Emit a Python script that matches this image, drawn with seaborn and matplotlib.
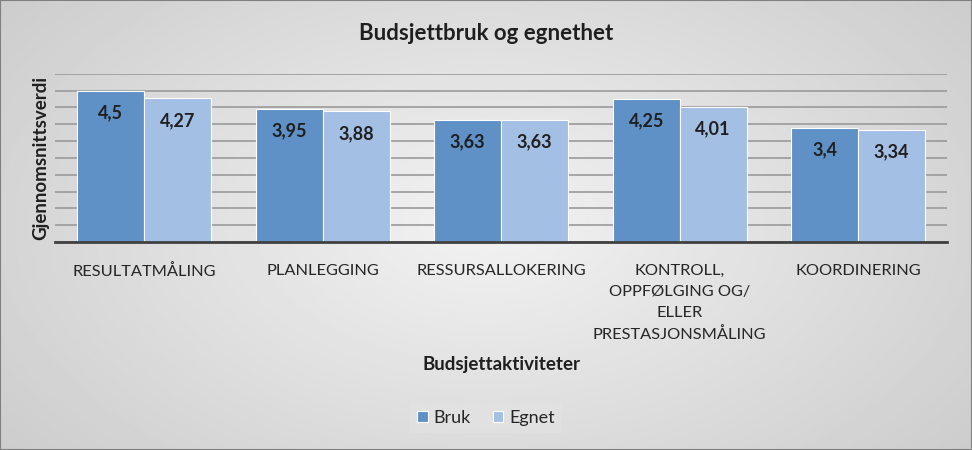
import numpy as np
import pandas as pd

import matplotlib
matplotlib.use("Agg")

import matplotlib.pyplot as plt
import seaborn as sns

# -------------------------------------------------------
# DONNÉES
# -------------------------------------------------------

categories = [
    "RESULTATMÅLING",
    "PLANLEGGING",
    "RESSURSALLOKERING",
    "KONTROLL,\nOPPFØLGING OG/\nELLER\nPRESTASJONSMÅLING",
    "KOORDINERING",
]
bruk = [4.5, 3.95, 3.63, 4.25, 3.4]
egnet = [4.27, 3.88, 3.63, 4.01, 3.34]
series = ["Bruk", "Egnet"]

df = pd.DataFrame({
    "aktivitet": categories * 2,
    "verdi": bruk + egnet,
    "serie": [series[0]] * len(categories) + [series[1]] * len(categories),
})

# -------------------------------------------------------
# CONFIGURATION
# -------------------------------------------------------

sns.set_theme(style="white")
plt.rcParams["font.family"] = ["Lato", "DejaVu Sans"]

fig = plt.figure(figsize=(9.72, 4.5), dpi=100)

# fond dégradé gris
bg = fig.add_axes([0, 0, 1, 1], zorder=-10)
yy, xx = np.mgrid[-1:1:200j, -1:1:400j]
r = np.sqrt((xx * 0.9) ** 2 + (yy * 0.7) ** 2)
bg.imshow(0.95 - 0.13 * r, cmap="gray", vmin=0, vmax=1, aspect="auto",
          extent=[0, 1, 0, 1])
bg.set_axis_off()
fig.patches.append(plt.Rectangle((0, 0), 1, 1, transform=fig.transFigure,
                                 fill=False, edgecolor="#7F7F7F", lw=1.5))

ax = fig.add_axes([0.0566, 0.462, 0.918, 0.374])
ax.set_facecolor("none")

sns.barplot(
    data=df, x="aktivitet", y="verdi", hue="serie",
    palette=["#5F90C6", "#A3BFE4"], width=0.75,
    edgecolor="white", linewidth=0.8, saturation=1, ax=ax, zorder=3,
)

for cont in ax.containers:
    ax.bar_label(cont, fmt=lambda v: f"{v:g}".replace(".", ","),
                 padding=-22, fontsize=13, fontweight="bold",
                 color="#1F1F1F")

ax.set_ylim(0, 5)
ax.set_xlim(-0.5, 4.5)
ax.set_yticks(np.arange(0, 5.01, 0.5))
ax.set_yticklabels([])
ax.tick_params(axis="y", length=0)
ax.set_xticks(range(len(categories)))
ax.set_xticklabels(categories, linespacing=1.6)
ax.tick_params(axis="x", length=0, labelsize=11.8, labelcolor="#262626", pad=16)
ax.grid(axis="y", color="#9A9A9A", lw=1.2, zorder=0)
ax.grid(axis="x", visible=False)

for s in ["top", "left", "right"]:
    ax.spines[s].set_visible(False)
ax.spines["bottom"].set_color("#404040")
ax.spines["bottom"].set_linewidth(2)
ax.spines["bottom"].set_zorder(4)

ax.set_xlabel("Budsjettaktiviteter", fontsize=13.5, fontweight="bold",
              color="#1F1F1F", labelpad=10)
ax.set_ylabel("Gjennomsnittsverdi", fontsize=13.5, fontweight="bold",
              color="#1F1F1F")
ax.yaxis.set_label_coords(-0.006, 0.5)

fig.text(0.5, 0.925, "Budsjettbruk og egnethet", ha="center", va="center",
         fontsize=16, fontweight="bold", color="#1F1F1F")

ax.legend_.remove()
handles, labels = ax.get_legend_handles_labels()
fig.legend(handles, labels, loc="center", bbox_to_anchor=(0.5, 0.071),
           ncol=2, frameon=True, facecolor="#E2E2E2", edgecolor="none",
           fontsize=13, handlelength=0.6, handleheight=0.6,
           handletextpad=0.3, columnspacing=1.2, fancybox=False)

plt.savefig("out.png", dpi=100)
plt.close()
